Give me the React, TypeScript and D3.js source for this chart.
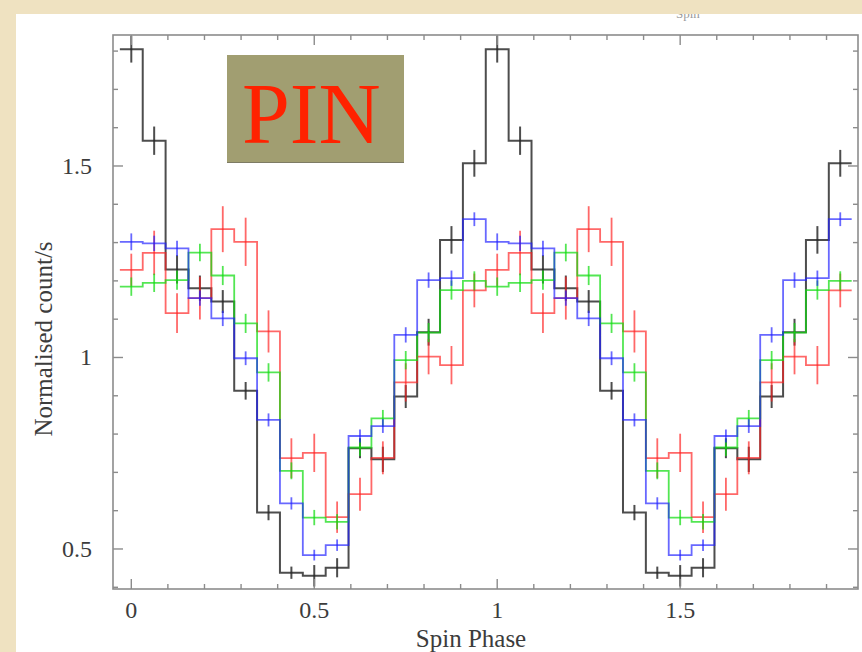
import React from "react";
import * as d3 from "d3";

// Phase bins of one folded cycle (bin centres); the profile is drawn twice.
const phaseCentres = [
  0, 0.0625, 0.125, 0.1875, 0.25, 0.3125, 0.375, 0.4375,
  0.5, 0.5625, 0.625, 0.6875, 0.75, 0.8125, 0.875, 0.9375,
];
const binWidth = 0.0625;
const cycles = [0, 1];

// Normalised count rates and 1-sigma errors per energy band
const blackRate = [1.805, 1.566, 1.23, 1.181, 1.146, 0.913, 0.595, 0.438, 0.43, 0.451, 0.763, 0.734, 0.898, 1.066, 1.307, 1.507];
const blackErr = [0.035, 0.037, 0.037, 0.033, 0.03, 0.023, 0.02, 0.016, 0.028, 0.025, 0.026, 0.033, 0.03, 0.035, 0.036, 0.035];

const redRate = [1.229, 1.273, 1.116, 1.155, 1.335, 1.302, 1.068, 0.737, 0.751, 0.583, 0.643, 0.738, 0.935, 1.002, 0.98, 1.175];
const redErr = [0.042, 0.058, 0.052, 0.056, 0.06, 0.063, 0.055, 0.052, 0.05, 0.041, 0.043, 0.043, 0.05, 0.046, 0.05, 0.044];

const greenRate = [1.185, 1.195, 1.202, 1.274, 1.214, 1.089, 0.961, 0.704, 0.582, 0.571, 0.765, 0.841, 0.993, 1.065, 1.176, 1.2];
const greenErr = [0.024, 0.024, 0.025, 0.023, 0.025, 0.025, 0.024, 0.022, 0.02, 0.02, 0.022, 0.022, 0.024, 0.025, 0.025, 0.025];

const blueRate = [1.302, 1.298, 1.285, 1.155, 1.102, 0.998, 0.837, 0.619, 0.484, 0.51, 0.795, 0.821, 1.059, 1.202, 1.207, 1.361];
const blueErr = [0.022, 0.02, 0.02, 0.02, 0.02, 0.018, 0.017, 0.016, 0.014, 0.015, 0.017, 0.018, 0.02, 0.02, 0.02, 0.018];

const yMajorTicks = [0.5, 1, 1.5];
const yMajorLabels = ["0.5", "1", "1.5"];
const yMinorTicks = [0.4, 0.6, 0.7, 0.8, 0.9, 1.1, 1.2, 1.3, 1.4, 1.6, 1.7, 1.8];
const xMajorTicks = [0, 0.5, 1, 1.5];
const xMajorLabels = ["0", "0.5", "1", "1.5"];
const xMinorTicks = [0.1, 0.2, 0.3, 0.4, 0.6, 0.7, 0.8, 0.9, 1.1, 1.2, 1.3, 1.4, 1.6, 1.7, 1.8, 1.9];

const W = 862;
const H = 652;
const frame = { left: 113, right: 858, top: 35, bottom: 589 };
const serif = "'Liberation Serif', 'Times New Roman', Times, serif";

const series = [
  { name: "black", rate: blackRate, err: blackErr, color: "#262626", width: 2, opacity: 0.82 },
  { name: "red", rate: redRate, err: redErr, color: "#ff2020", width: 1.8, opacity: 0.68 },
  { name: "green", rate: greenRate, err: greenErr, color: "#10dd10", width: 1.8, opacity: 0.72 },
  { name: "blue", rate: blueRate, err: blueErr, color: "#2020ff", width: 1.8, opacity: 0.68 },
];

export default function App() {
  const x = d3.scaleLinear().domain([-0.05, 1.986]).range([frame.left, frame.right]);
  const y = d3.scaleLinear().domain([0.3955, 1.842]).range([frame.bottom, frame.top]);
  const [x0, x1] = x.domain();

  const line = d3
    .line<[number, number]>()
    .x((d) => x(d[0]))
    .y((d) => y(d[1]));

  const stepPath = (rate: number[]) => {
    const pts: [number, number][] = [];
    cycles.forEach((c) => {
      phaseCentres.forEach((p, i) => {
        const lo = Math.max(x0, c + p - binWidth / 2);
        const hi = Math.min(x1, c + p + binWidth / 2);
        pts.push([lo, rate[i]], [hi, rate[i]]);
      });
    });
    return line(pts) ?? "";
  };

  const majorLen = 10;
  const minorLen = 5;
  const axisColor = "#8c8c8c";
  const textColor = "#3c3c3c";

  return (
    <svg
      width={W}
      height={H}
      viewBox={`0 0 ${W} ${H}`}
      style={{ position: "absolute", left: 0, top: 0, display: "block" }}
    >
      {/* slide background and white figure panel */}
      <rect x={0} y={0} width={W} height={H} fill="#efe2c1" />
      <rect x={16} y={14} width={W - 16} height={H - 14} fill="#ffffff" />
      <text x={676} y={18} fontFamily={serif} fontSize={13} fill="#9a9a9a">
        Spin
      </text>
      <rect x={16} y={0} width={W - 16} height={14} fill="#efe2c1" />

      {/* data: step histograms with error bars */}
      <g fill="none" strokeLinejoin="miter">
        {series.map((s) => (
          <g key={s.name} stroke={s.color} strokeOpacity={s.opacity}>
            <path d={stepPath(s.rate)} strokeWidth={s.width} />
            {cycles.map((c) =>
              phaseCentres.map((p, i) => {
                const px = x(c + p);
                if (px < frame.left || px > frame.right) return null;
                return (
                  <line
                    key={`${c}-${i}`}
                    x1={px}
                    x2={px}
                    y1={y(s.rate[i] - s.err[i])}
                    y2={y(s.rate[i] + s.err[i])}
                    strokeWidth={s.width}
                  />
                );
              })
            )}
          </g>
        ))}
      </g>

      {/* frame */}
      <rect
        x={frame.left}
        y={frame.top}
        width={frame.right - frame.left}
        height={frame.bottom - frame.top}
        fill="none"
        stroke={axisColor}
        strokeWidth={1.6}
      />

      {/* ticks on all four sides */}
      <g stroke={axisColor} strokeWidth={1.4}>
        {xMajorTicks.map((t) => (
          <g key={`xM${t}`}>
            <line x1={x(t)} x2={x(t)} y1={frame.bottom} y2={frame.bottom - majorLen} />
            <line x1={x(t)} x2={x(t)} y1={frame.top} y2={frame.top + majorLen} />
          </g>
        ))}
        {xMinorTicks.map((t) => (
          <g key={`xm${t}`}>
            <line x1={x(t)} x2={x(t)} y1={frame.bottom} y2={frame.bottom - minorLen} />
            <line x1={x(t)} x2={x(t)} y1={frame.top} y2={frame.top + minorLen} />
          </g>
        ))}
        {yMajorTicks.map((t) => (
          <g key={`yM${t}`}>
            <line x1={frame.left} x2={frame.left + majorLen} y1={y(t)} y2={y(t)} />
            <line x1={frame.right} x2={frame.right - majorLen} y1={y(t)} y2={y(t)} />
          </g>
        ))}
        {yMinorTicks.map((t) => (
          <g key={`ym${t}`}>
            <line x1={frame.left} x2={frame.left + minorLen} y1={y(t)} y2={y(t)} />
            <line x1={frame.right} x2={frame.right - minorLen} y1={y(t)} y2={y(t)} />
          </g>
        ))}
      </g>

      {/* tick labels */}
      <g fontFamily={serif} fontSize={24} fill={textColor}>
        {yMajorTicks.map((t, i) => (
          <text key={`yl${t}`} x={92} y={y(t) + 8} textAnchor="end">
            {yMajorLabels[i]}
          </text>
        ))}
        {xMajorTicks.map((t, i) => (
          <text key={`xl${t}`} x={x(t)} y={618} textAnchor="middle">
            {xMajorLabels[i]}
          </text>
        ))}
      </g>

      {/* axis titles */}
      <text x={471} y={647} textAnchor="middle" fontFamily={serif} fontSize={25} fill={textColor}>
        Spin Phase
      </text>
      <text
        transform="translate(52,339) rotate(-90)"
        textAnchor="middle"
        fontFamily={serif}
        fontSize={25}
        fill={textColor}
      >
        Normalised count/s
      </text>

      {/* instrument label */}
      <rect x={227} y={55} width={177} height={108} fill="#a19e71" />
      <line x1={227} x2={404} y1={162.5} y2={162.5} stroke="#7d7b64" strokeWidth={1} />
      <text x={242} y={143} fontFamily={serif} fontSize={86} fill="#ff2200">
        PIN
      </text>
    </svg>
  );
}
